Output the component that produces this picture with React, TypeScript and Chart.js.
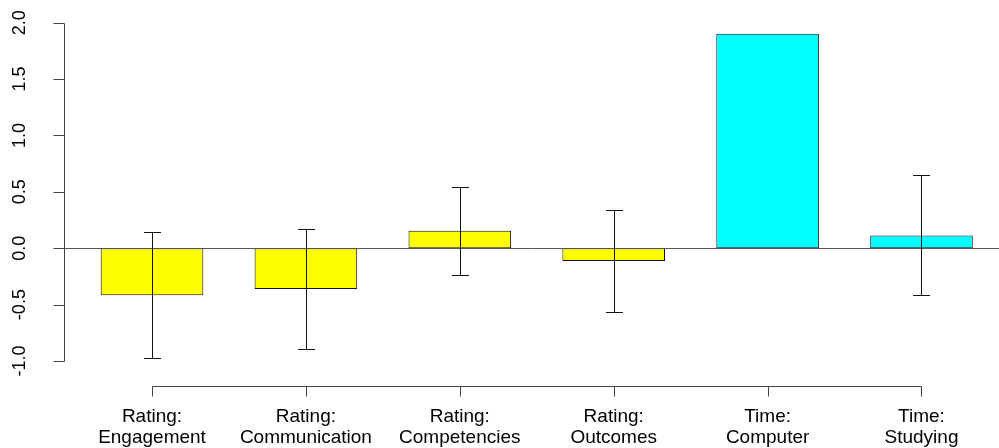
import React, { useEffect, useRef } from 'react';
import { Chart, registerables } from 'chart.js';

Chart.register(...registerables);

// ---- data ----
const categories: string[][] = [
  ['Rating:', 'Engagement'],
  ['Rating:', 'Communication'],
  ['Rating:', 'Competencies'],
  ['Rating:', 'Outcomes'],
  ['Time:', 'Computer'],
  ['Time:', 'Studying'],
];
const meanValues: number[] = [-0.417, -0.361, 0.156, -0.113, 1.902, 0.113];
const errorValues: (number | null)[] = [0.56, 0.53, 0.39, 0.456, null, 0.532];
const barColors: string[] = ['#FFFF00', '#FFFF00', '#FFFF00', '#FFFF00', '#00FFFF', '#00FFFF'];
const yTickValues: number[] = [-1, -0.5, 0, 0.5, 1, 1.5, 2];
const yTickLabels: string[] = ['-1.0', '-0.5', '0.0', '0.5', '1.0', '1.5', '2.0'];

const FONT = '"Liberation Sans", Arial, Helvetica, sans-serif';

const rAxesPlugin = {
  id: 'rAxes',
  afterDatasetsDraw(chart: any) {
    const { ctx, width } = chart;
    const xs = chart.scales.x;
    const ys = chart.scales.y;
    ctx.save();

    // zero reference line
    const y0 = Math.round(ys.getPixelForValue(0)) + 0.5;
    ctx.strokeStyle = '#555555';
    ctx.lineWidth = 1;
    ctx.beginPath();
    ctx.moveTo(64, y0);
    ctx.lineTo(width, y0);
    ctx.stroke();

    // error bars
    ctx.strokeStyle = '#111111';
    meanValues.forEach((v, i) => {
      const e = errorValues[i];
      if (e === null || e === undefined) return;
      const xc = Math.round(xs.getPixelForValue(i)) + 0.5;
      const yt = Math.round(ys.getPixelForValue(v + e)) + 0.5;
      const yb = Math.round(ys.getPixelForValue(v - e)) + 0.5;
      ctx.beginPath();
      ctx.moveTo(xc, yt);
      ctx.lineTo(xc, yb);
      ctx.moveTo(xc - 8.5, yt);
      ctx.lineTo(xc + 8.5, yt);
      ctx.moveTo(xc - 8.5, yb);
      ctx.lineTo(xc + 8.5, yb);
      ctx.stroke();
    });

    // y axis
    ctx.strokeStyle = '#444444';
    const ax = 64.5;
    const yTop = Math.round(ys.getPixelForValue(yTickValues[yTickValues.length - 1])) + 0.5;
    const yBot = Math.round(ys.getPixelForValue(yTickValues[0])) + 0.5;
    ctx.beginPath();
    ctx.moveTo(ax, yTop);
    ctx.lineTo(ax, yBot);
    yTickValues.forEach((t) => {
      const py = Math.round(ys.getPixelForValue(t)) + 0.5;
      ctx.moveTo(ax - 11, py);
      ctx.lineTo(ax, py);
    });
    ctx.stroke();

    ctx.fillStyle = '#000000';
    ctx.font = `18px ${FONT}`;
    ctx.textAlign = 'center';
    ctx.textBaseline = 'alphabetic';
    yTickValues.forEach((t, i) => {
      const py = ys.getPixelForValue(t);
      ctx.save();
      ctx.translate(25, py);
      ctx.rotate(-Math.PI / 2);
      ctx.fillText(yTickLabels[i], 0, 0);
      ctx.restore();
    });

    // x axis
    ctx.strokeStyle = '#444444';
    const xAxisY = 386.5;
    const xL = Math.round(xs.getPixelForValue(0)) + 0.5;
    const xR = Math.round(xs.getPixelForValue(categories.length - 1)) + 0.5;
    ctx.beginPath();
    ctx.moveTo(xL, xAxisY);
    ctx.lineTo(xR, xAxisY);
    categories.forEach((_, i) => {
      const px = Math.round(xs.getPixelForValue(i)) + 0.5;
      ctx.moveTo(px, xAxisY);
      ctx.lineTo(px, xAxisY + 10);
    });
    ctx.stroke();

    ctx.fillStyle = '#000000';
    ctx.font = `19px ${FONT}`;
    ctx.textAlign = 'center';
    ctx.textBaseline = 'alphabetic';
    categories.forEach((lines, i) => {
      const px = xs.getPixelForValue(i);
      lines.forEach((line, j) => {
        ctx.fillText(line, px, 421.5 + j * 21.6);
      });
    });

    ctx.restore();
  },
};

export default function App() {
  const canvasRef = useRef<HTMLCanvasElement | null>(null);

  useEffect(() => {
    const canvas = canvasRef.current;
    if (!canvas) return;
    const chart = new Chart(canvas, {
      type: 'bar',
      data: {
        labels: categories.map((c) => c.join(' ')),
        datasets: [
          {
            data: meanValues,
            backgroundColor: barColors,
            borderColor: '#111111',
            borderWidth: 1,
            borderSkipped: false,
            categoryPercentage: 2 / 3,
            barPercentage: 1,
          },
        ],
      },
      options: {
        responsive: false,
        animation: false,
        devicePixelRatio: 1,
        layout: {
          padding: { left: 75.05, right: 0.55, top: 11.42, bottom: 64.44 },
        },
        scales: {
          x: { type: 'category', display: false, offset: true },
          y: { type: 'linear', display: false, min: -1.2, max: 2.1 },
        },
        plugins: {
          legend: { display: false },
          tooltip: { enabled: false },
        },
      },
      plugins: [rAxesPlugin],
    });
    return () => chart.destroy();
  }, []);

  return (
    <div style={{ position: 'absolute', left: 0, top: 0, width: 999, height: 448, background: '#ffffff' }}>
      <canvas ref={canvasRef} width={999} height={448} />
    </div>
  );
}
